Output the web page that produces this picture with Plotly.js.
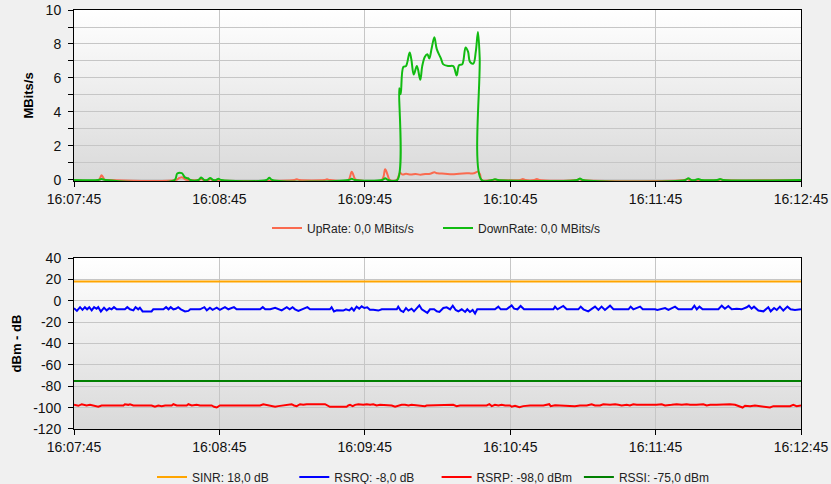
<!DOCTYPE html>
<html>
<head>
<meta charset="utf-8">
<script src="https://cdn.plot.ly/plotly-3.0.1.min.js"></script>
<style>
html,body{margin:0;padding:0;background:#f0f0f0;}
#chart{width:831px;height:484px;}
</style>
</head>
<body>
<div id="chart"></div>
<script>
// ---- data (seconds after 16:07:45) ----
const xTickSec = [0, 60, 120, 180, 240, 300];
const xTickLabels = ['16:07:45', '16:08:45', '16:09:45', '16:10:45', '16:11:45', '16:12:45'];
const rateTickVals = [0, 2, 4, 6, 8, 10];
const rateTickLabels = ['0', '2', '4', '6', '8', '10'];
const signalTickVals = [-120, -100, -80, -60, -40, -20, 0, 20, 40];
const signalTickLabels = ['-120', '-100', '-80', '-60', '-40', '-20', '0', '20', '40'];

const rateNames = ['UpRate: 0,0 MBits/s', 'DownRate: 0,0 MBits/s'];
const signalNames = ['SINR: 18,0 dB', 'RSRQ: -8,0 dB', 'RSRP: -98,0 dBm', 'RSSI: -75,0 dBm'];

const upT = [0, 10.2, 11.4, 12.6, 14, 42, 43.5, 44.8, 46, 47,
  51.5, 52.5, 53.5, 55.5, 56.3, 57.2, 91, 92, 93, 103.4,
  104.4, 105.4, 113.2, 114.6, 116, 117, 127, 128.4, 129.4, 130.3,
  133.2, 134.5, 135.5, 137, 139, 141, 143, 145, 147, 148.7,
  150, 153, 156, 159, 162, 165, 166.7, 167.5, 168.2, 172.7,
  173.7, 174.7, 184.2, 185.2, 186.2, 190, 191, 192, 207.5, 208.5,
  209.5, 252, 253, 254, 266, 267, 268, 300];
const upV = [0, 0, 0.28, 0.02, 0, 0, 0.12, 0.15, 0.02, 0,
  0, 0.05, 0, 0, 0.05, 0, 0, 0.04, 0, 0,
  0.04, 0, 0, 0.49, 0.05, 0, 0, 0.63, 0.3, 0,
  0, 0.42, 0.32, 0.36, 0.32, 0.35, 0.31, 0.35, 0.37, 0.45,
  0.39, 0.37, 0.34, 0.37, 0.39, 0.4, 0.49, 0.35, 0, 0,
  0.03, 0, 0, 0.05, 0, 0, 0.06, 0, 0, 0.05,
  0, 0, 0.05, 0, 0, 0.03, 0, 0];

const downT = [0, 10, 11.4, 13, 41.5, 42.6, 44.5, 45.8, 47, 48,
  51.3, 52.5, 53.7, 55, 56.2, 57.4, 58.6, 59.6, 60.8, 79.4,
  80.6, 81.8, 113.4, 114.6, 115.8, 127.2, 128.4, 129.6, 133.4, 134.2,
  134.8, 135.9, 137.0, 138.5, 139.2, 140.2, 141.5, 142.9, 143.7, 144.8,
  145.8, 146.6, 147.6, 148.7, 149.7, 151.4, 152.4, 154.5, 156.5, 157.9,
  158.9, 160.2, 161.6, 162.6, 163.4, 164.8, 165.8, 166.7, 167.4, 168.2,
  172.5, 173.7, 174.9, 207.6, 208.8, 210, 252.3, 253.5, 254.7, 256.4,
  257.6, 258.8, 265.4, 266.6, 267.8, 300];
const downV = [0, 0, 0.05, 0, 0, 0.38, 0.4, 0.15, 0.1, 0,
  0, 0.15, 0, 0, 0.12, 0, 0, 0.07, 0, 0,
  0.13, 0, 0, 0.07, 0, 0, 0.1, 0, 0, 5.4,
  5.05, 6.65, 6.7, 7.5, 7.1, 6.2, 6.7, 5.9, 6.7, 7.25,
  7.4, 7.15, 7.75, 8.4, 7.7, 7.15, 6.8, 6.7, 6.7, 6.15,
  6.75, 6.8, 7.8, 7.55, 6.95, 6.85, 7.55, 8.7, 7.2, 0,
  0, 0.04, 0, 0, 0.08, 0, 0, 0.1, 0, 0,
  0.06, 0, 0, 0.05, 0, 0];

const sinrT = [0, 60, 120, 180, 240, 300];
const sinrV = [18, 18, 18, 18, 18, 18];
const rssiT = [0, 60, 120, 180, 240, 300];
const rssiV = [-75, -75, -75, -75, -75, -75];

const rsrqT = [0, 1.2, 2.5, 3.5, 4.5, 5.4, 6.3, 7.3, 8.3, 9.3,
  10, 11.1, 12.4, 13.5, 14.6, 15.5, 16.5, 17.6, 21, 22,
  23.1, 24.5, 25.4, 26.5, 27.2, 28.3, 32, 32.7, 36.9, 38,
  39, 39.9, 41, 42, 43, 44.1, 45.8, 47.2, 48, 52,
  53.8, 54.8, 56.1, 57.2, 58.9, 60.2, 62.3, 63.7, 66, 67.1,
  76.8, 77.9, 78.9, 81, 83, 84.3, 85.7, 87.8, 89, 90.2,
  91.2, 92.6, 94.6, 96.3, 97.4, 105.6, 106.3, 107.3, 108.4, 111.1,
  112.2, 113.6, 114.6, 115.5, 116.6, 117.7, 118.7, 119.8, 121, 122.1,
  123.5, 125.6, 127, 133.2, 133.8, 134.8, 135.9, 137, 138, 139.3,
  140.3, 141.4, 142.5, 143.5, 144.8, 145.8, 146.9, 148.6, 149.7, 150.8,
  152.4, 153.8, 155.2, 156.3, 157.5, 158.6, 160, 161.4, 162.3, 163.4,
  164.5, 165.5, 166.4, 173.7, 175.1, 176.1, 178.5, 180.6, 181.6, 183,
  184.3, 185.7, 197.8, 198.5, 199.5, 201.9, 203.3, 208.1, 209.1, 210.2,
  212.2, 214, 215, 216.4, 217.7, 219.1, 221.2, 222.6, 228.8, 229.7,
  230.8, 233.6, 234.7, 239.8, 240.7, 243.9, 245.3, 248, 249.4, 254.9,
  256, 257, 258.1, 259.4, 265.9, 267.3, 268.6, 270, 271.4, 273.5,
  275.5, 277.6, 278.5, 279.6, 280.6, 282.4, 284.5, 286.5, 287.5, 288.9,
  290, 291.3, 292.7, 294.4, 295.7, 297.5, 300];
const rsrqV = [-7, -9.5, -6, -8.5, -6, -8, -6, -9, -6, -7.5,
  -6, -10, -6.5, -9, -7, -8, -6, -8, -8, -6,
  -8, -9, -6, -8, -6.5, -10, -10, -8, -8, -6,
  -8, -6, -8, -7.5, -6, -8, -10, -9.5, -8, -8,
  -6, -9, -6.5, -8.5, -6.5, -8.5, -6, -8, -6, -8,
  -8, -6, -8, -8, -6.5, -8, -9, -6, -8, -6,
  -8, -9.5, -8, -6, -8, -8, -6, -10, -9, -9.2,
  -8, -9, -6.8, -9.2, -5.5, -7.4, -5.2, -6.8, -6.1, -8.5,
  -8.5, -9.2, -8, -8, -5.5, -9.2, -10.5, -6.8, -9.2, -7.4,
  -9.9, -6.8, -4.3, -8, -9.9, -11.4, -8, -8, -9.9, -10.5,
  -6.8, -6.1, -8, -4.6, -8.6, -9.9, -8, -10.5, -8, -10.5,
  -8.6, -12, -8, -8, -5.5, -8, -8, -4.3, -7.4, -8,
  -4.9, -8, -8, -5.5, -8, -4.9, -8, -8, -5.5, -8,
  -9.9, -7.4, -5.5, -8.6, -5.5, -8.6, -4.6, -8, -8, -5.5,
  -8, -5.5, -8, -8, -8.6, -6.8, -8.6, -5.5, -8, -8,
  -4.6, -8, -5.5, -8, -8, -4.6, -7.4, -4.9, -8, -7.4,
  -8, -6.1, -4.6, -7.4, -5.5, -9.2, -9.9, -6.1, -9.9, -6.8,
  -8.6, -5.5, -9.2, -5.5, -8, -8.6, -8];

const rsrpT = [0, 1.8, 3.2, 5.2, 6.6, 8.7, 10, 11.4, 20.4, 21,
  22.4, 23.1, 24.5, 32, 33.4, 34.8, 36.2, 37.6, 40.3, 41,
  42.4, 46.5, 47.2, 48.6, 50.6, 52, 56.8, 57.8, 58.9, 60.2,
  76.8, 78.1, 79.5, 80.9, 83, 84.3, 85.7, 88.4, 89.8, 90.8,
  91.9, 93.3, 94.6, 96, 100.8, 102.2, 103.6, 105.6, 112.5, 113.2,
  113.9, 115, 116, 117.3, 119.4, 120.8, 122.2, 123.5, 124.9, 126.3,
  129, 131.1, 132.5, 133.8, 135.2, 136.6, 138, 139.3, 141.4, 142.8,
  144.8, 145.5, 152.4, 153.8, 156.5, 157.9, 159.3, 170.3, 171.4, 172.4,
  173.7, 175.1, 176.5, 177.9, 179.9, 180.6, 182, 183.8, 185.4, 188.2,
  193.7, 196.1, 196.7, 198.5, 200.6, 204.7, 206.7, 208.8, 211.6, 213.6,
  215, 217.1, 218.4, 221.2, 223.3, 224.6, 226, 228.1, 229.4, 230.8,
  232.2, 240.4, 242.5, 243.9, 245.3, 246.6, 248.7, 250.8, 252.8, 254.2,
  256.9, 259.7, 261.1, 262.5, 265.2, 269.3, 270.7, 272.8, 274.8, 275.9,
  276.9, 279, 281, 283.1, 285.8, 287.2, 288.6, 295.5, 296.8, 298.2,
  300];
const rsrpV = [-97.4, -98.3, -96.8, -98, -97.4, -98.6, -99.2, -98, -98, -96.8,
  -97.4, -96.8, -98, -98, -99.2, -98, -98.6, -98, -98, -96.8,
  -98, -98, -96.8, -98, -97.4, -98, -98, -99.2, -99.9, -98,
  -98, -96.8, -97.4, -98, -99.2, -98.6, -98, -97.4, -96.8, -98,
  -98.6, -96.8, -97.4, -96.8, -96.8, -97.4, -96.8, -99.2, -99.2, -98,
  -97.4, -98.6, -97.4, -96.8, -97.4, -96.8, -97.4, -96.8, -98, -97.4,
  -98, -98, -99.2, -98.3, -97.4, -97.4, -98, -97.4, -98, -98.6,
  -98.6, -98, -98, -97.4, -97.4, -98.6, -98, -98, -96.8, -98.6,
  -97.4, -98, -97.4, -98, -98, -99.2, -98.3, -99.6, -98.6, -98,
  -98, -96.8, -98.6, -97.8, -98, -98, -98.6, -98, -98, -96.8,
  -98, -98, -96.8, -97.4, -96.8, -97.4, -98, -97.4, -98, -96.8,
  -97.4, -97.4, -96.8, -98, -98, -97.4, -96.8, -97.4, -96.8, -97.4,
  -97.4, -96.8, -98, -97.4, -97.4, -96.8, -96.8, -97.4, -99.2, -99.9,
  -98.3, -98.6, -98, -98.6, -99.2, -99.9, -98.6, -98.6, -97.4, -98.6,
  -98];

// ---- layout constants ----
const topDomain = [0.5919, 1];
const botDomain = [0, 0.4081];
const gridC = '#c6c6c6';
const fontFam = 'Liberation Sans, Arial, sans-serif';

function gradient(top, bottom) {
  const svg = '<svg xmlns="http://www.w3.org/2000/svg" width="10" height="100" preserveAspectRatio="none">' +
    '<defs><linearGradient id="g" x1="0" y1="0" x2="0" y2="1">' +
    '<stop offset="0" stop-color="' + top + '"/><stop offset="1" stop-color="' + bottom + '"/>' +
    '</linearGradient></defs><rect width="10" height="100" fill="url(#g)"/></svg>';
  return 'data:image/svg+xml;charset=utf-8,' + encodeURIComponent(svg);
}

function pair(t, v) { const n = Math.min(t.length, v.length); return [t.slice(0, n), v.slice(0, n)]; }

function line(t, v, name, color, xa, ya, legend, shape) {
  const p = pair(t, v);
  return {
    type: 'scatter', mode: 'lines', x: p[0], y: p[1], name: name,
    xaxis: xa, yaxis: ya, legend: legend,
    line: {color: color, width: 2, shape: shape, smoothing: 1},
    hoverinfo: 'skip'
  };
}

const traces = [
  line(upT, upV, rateNames[0], '#fa6a4f', 'x', 'y', 'legend', 'spline'),
  line(downT, downV, rateNames[1], '#11bb11', 'x', 'y', 'legend', 'spline'),
  line(sinrT, sinrV, signalNames[0], '#ffa500', 'x2', 'y2', 'legend2', 'linear'),
  line(rsrqT, rsrqV, signalNames[1], '#0000ff', 'x2', 'y2', 'legend2', 'linear'),
  line(rsrpT, rsrpV, signalNames[2], '#ff0000', 'x2', 'y2', 'legend2', 'linear'),
  line(rssiT, rssiV, signalNames[3], '#008000', 'x2', 'y2', 'legend2', 'linear')
];

function xAxis(anchor) {
  return {
    anchor: anchor, domain: [0, 1], range: [0, 300],
    tickmode: 'array', tickvals: xTickSec, ticktext: xTickLabels,
    showgrid: true, gridcolor: gridC, gridwidth: 1,
    ticks: 'outside', ticklen: 5, tickcolor: '#000',
    showline: true, linecolor: '#000', linewidth: 1, mirror: true,
    zeroline: false, tickfont: {size: 14, color: '#111', family: fontFam},
    fixedrange: true
  };
}

function yAxis(anchor, domain, range, vals, labels, title, standoff) {
  return {
    anchor: anchor, domain: domain, range: range,
    tickmode: 'array', tickvals: vals, ticktext: labels,
    showgrid: true, gridcolor: gridC, gridwidth: 1,
    ticks: 'outside', ticklen: 5, tickcolor: '#000',
    showline: true, linecolor: '#000', linewidth: 1, mirror: true, zeroline: false,
    tickfont: {size: 14, color: '#111', family: fontFam},
    ticklabelstandoff: 4,
    title: {text: title, font: {size: 13, weight: 'bold', color: '#000', family: fontFam}, standoff: standoff},
    fixedrange: true
  };
}

const yTop = yAxis('x', topDomain, [-0.06, 10], rateTickVals, rateTickLabels, 'MBits/s', 9);
yTop.minor = {tickmode: 'linear', tick0: 0, dtick: 1, showgrid: true, gridcolor: gridC, gridwidth: 1,
  ticks: 'outside', ticklen: 5, tickcolor: '#000'};
const yBot = yAxis('x2', botDomain, [-120, 40], signalTickVals, signalTickLabels, 'dBm - dB', 8);

const layout = {
  width: 831, height: 484,
  margin: {l: 74, r: 30, t: 10, b: 55, autoexpand: false},
  paper_bgcolor: '#f0f0f0', plot_bgcolor: 'rgba(0,0,0,0)',
  font: {family: fontFam, color: '#111'},
  showlegend: true,
  xaxis: xAxis('y'),
  xaxis2: xAxis('y2'),
  yaxis: yTop,
  yaxis2: yBot,
  legend: {
    orientation: 'h', x: (267 - 74) / 727, xanchor: 'left', y: (429 - 228) / 419, yanchor: 'middle',
    entrywidth: 126, entrywidthmode: 'pixels',
    font: {size: 12, color: '#222', family: fontFam}, bgcolor: 'rgba(0,0,0,0)', borderwidth: 0
  },
  legend2: {
    orientation: 'h', x: (152 - 74) / 727, xanchor: 'left', y: (429 - 477) / 419, yanchor: 'middle',
    entrywidth: 97.3, entrywidthmode: 'pixels',
    font: {size: 12, color: '#222', family: fontFam}, bgcolor: 'rgba(0,0,0,0)', borderwidth: 0
  },
  images: [
    {source: gradient('#ffffff', '#d9d9d9'), xref: 'paper', yref: 'paper', x: 0, y: topDomain[1],
     sizex: 1, sizey: topDomain[1] - topDomain[0], xanchor: 'left', yanchor: 'top', sizing: 'stretch', layer: 'below'},
    {source: gradient('#ffffff', '#d9d9d9'), xref: 'paper', yref: 'paper', x: 0, y: botDomain[1],
     sizex: 1, sizey: botDomain[1] - botDomain[0], xanchor: 'left', yanchor: 'top', sizing: 'stretch', layer: 'below'}
  ]
};

Plotly.newPlot('chart', traces, layout, {staticPlot: true, displayModeBar: false});
</script>
</body>
</html>
